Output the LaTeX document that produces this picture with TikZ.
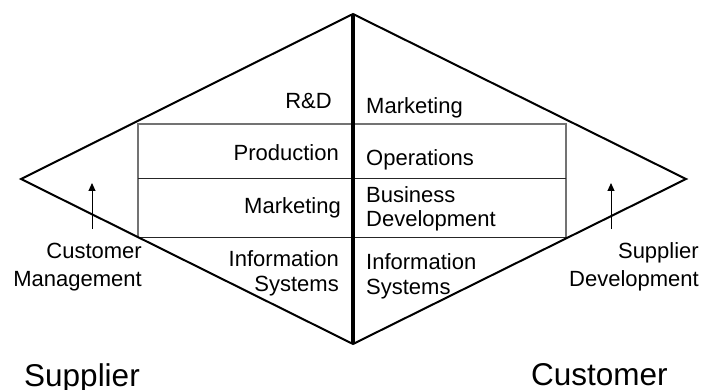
\documentclass[tikz,border=0pt]{standalone}
\usepackage{fontspec}
\setmainfont{Liberation Sans}
\usetikzlibrary{arrows.meta}
\begin{document}
\begin{tikzpicture}[x=1pt,y=-1pt,
  lbl/.style={inner sep=0pt,font=\fontsize{22}{24}\selectfont},
  lblL/.style={lbl,anchor=base east},
  lblR/.style={lbl,anchor=base west},
  big/.style={inner sep=0pt,anchor=base west,font=\fontsize{31.5}{34}\selectfont},
  outline/.style={line width=2pt,line join=miter},
  spine/.style={line width=3.5pt},
  gridgray/.style={draw=black!55,line width=1.1pt},
  griddark/.style={draw=black!85,line width=1pt},
  uparrow/.style={line width=1pt,-{Triangle[length=8pt,width=7pt]}}]
\useasboundingbox (0,0) rectangle (701,390);
\clip (0,0) rectangle (701,390);
% diamond vertices
\coordinate (L) at (21,179);
\coordinate (T) at (353,14);
\coordinate (R) at (686,179);
\coordinate (B) at (353,344);
% inner grid
\coordinate (g1) at (138,124);
\coordinate (g2) at (566,124);
\coordinate (g3) at (566,237);
\coordinate (g4) at (138,237);
\coordinate (m1) at (138,179);
\coordinate (m2) at (566,179);
\draw[gridgray] (g4) -- (g1) -- (g2) -- (g3);
\draw[griddark] (m1) -- (m2);
\draw[griddark] (g4) -- (g3);
\draw[outline] (L) -- (T) -- (R) -- (B) -- cycle;
\draw[spine] (T) -- (B);
% arrows
\coordinate (a1s) at (92,229);
\coordinate (a1e) at (92,183);
\coordinate (a2s) at (611,229);
\coordinate (a2e) at (611,183);
\draw[uparrow] (a1s) -- (a1e);
\draw[uparrow] (a2s) -- (a2e);
% left column
\node[lblL] (rd) at (332,109) {R\&D};
\node[lblL] (prod) at (339,161) {Production};
\node[lblL] (mktL) at (341,213) {Marketing};
\node[lblL] (infL) at (339,266) {Information};
\node[lblL] (sysL) at (339,291) {Systems};
% right column
\node[lblR] (mktR) at (366,114) {Marketing};
\node[lblR] (ops) at (366,166) {Operations};
\node[lblR] (bus) at (366,203) {Business};
\node[lblR] (dev) at (366,226) {Development};
\node[lblR] (infR) at (366,269) {Information};
\node[lblR] (sysR) at (366,294) {Systems};
% side labels
\node[lblL] (cust) at (142,258) {Customer};
\node[lblL] (mgmt) at (142,286) {Management};
\node[lblL] (supp) at (699,258) {Supplier};
\node[lblL] (sdev) at (699,286) {Development};
% bottom labels
\node[big] (supplier) at (24,386) {Supplier};
\node[big] (customer) at (531,385) {Customer};
\end{tikzpicture}
\end{document}
